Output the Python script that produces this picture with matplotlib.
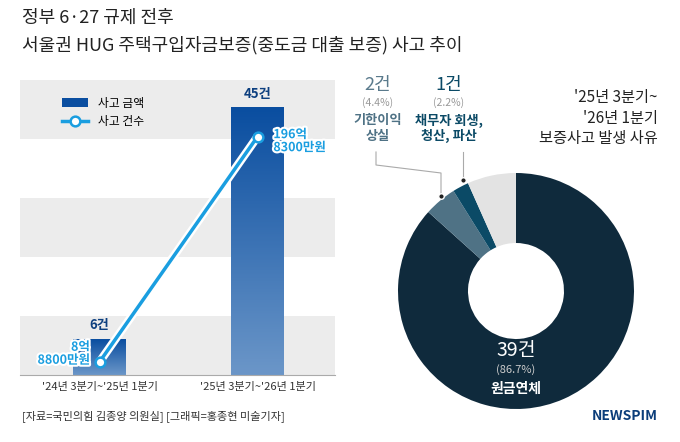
import numpy as np
import matplotlib.pyplot as plt
import matplotlib.patheffects as pe
from matplotlib.colors import LinearSegmentedColormap

plt.rcParams['font.family'] = ['Noto Sans CJK KR', 'DejaVu Sans']

periods = ["'24년 3분기~'25년 1분기", "'25년 3분기~'26년 1분기"]
counts = [6, 45]
amounts = [8.88, 196.83]  # 억원
amount_labels = ['8억\n8800만원', '196억\n8300만원']

reasons = ['원금연체', '기한이익\n상실', '채무자 회생,\n청산, 파산', '기타']
reason_counts = [39, 2, 1, 3]
pie_colors = ['#0f2a3c', '#4f7285', '#0b4a66', '#e3e3e3']

W, H = 680, 442
fig = plt.figure(figsize=(6.8, 4.42), dpi=100)

def fx(x):
    return x / W

def fy(y):
    return 1 - y / H

fig.text(fx(22), fy(18), '정부 6·27 규제 전후', fontsize=13, va='center', color='#222')
fig.text(fx(22), fy(45), '서울권 HUG 주택구입자금보증(중도금 대출 보증) 사고 추이', fontsize=13, va='center', color='#222')

# left bar chart
ymax = 49.7
ax = fig.add_axes([fx(20), fy(375), fx(315), (375 - 80) / H])
for i in range(5):
    if i % 2 == 0:
        ax.axhspan(i * ymax / 5, (i + 1) * ymax / 5, color='#ececec', zorder=0, lw=0)
x = np.arange(len(periods))
hw = 0.165
cmap = LinearSegmentedColormap.from_list('b', ['#6b96c8', '#0a4ea0'])
grad = np.linspace(0, 1, 100).reshape(-1, 1)
for xi, c in zip(x, counts):
    ax.imshow(grad, cmap=cmap, origin='lower', aspect='auto',
              extent=[xi - hw, xi + hw, 0, c], zorder=2)
    ax.text(xi, c + 1.2, f'{c}건', ha='center', va='bottom', fontsize=9.5,
            fontweight='bold', color='#0d3f7f', zorder=5)
ax.set_aspect('auto')
ax.set_xlim(-0.503, 1.49)
ax.set_ylim(0, ymax)
ax.set_xticks(x)
ax.set_xticklabels(periods, fontsize=8, color='#333')
ax.tick_params(axis='x', length=0, pad=5)
ax.set_yticks([])
for s in ['top', 'right', 'left']:
    ax.spines[s].set_visible(False)
ax.spines['bottom'].set_color('#aaa')
ax.bar([0], [0], color='#0a4ea0', label='사고 금액')

ax2 = ax.twinx()
ax2.set_ylim(-2, 244)
ax2.plot(x, amounts, color='white', lw=6, zorder=3, solid_capstyle='round')
ax2.plot(x, amounts, color='#1a9ee0', lw=2.5, marker='o', ms=7, mfc='white',
         mec='#1a9ee0', mew=1.8, zorder=4, label='사고 건수')
stroke = [pe.withStroke(linewidth=3, foreground='white')]
ax2.text(x[0] - 0.06, amounts[0] - 4, amount_labels[0], ha='right', va='bottom',
         fontsize=9, fontweight='bold', color='#1a9ee0', linespacing=1.0, zorder=6,
         path_effects=stroke)
ax2.text(x[1] + 0.1, amounts[1] + 7, amount_labels[1], ha='left', va='top',
         fontsize=9, fontweight='bold', color='#1a9ee0', linespacing=1.0, zorder=6,
         path_effects=stroke)
ax2.set_yticks([])
for s in ax2.spines.values():
    s.set_visible(False)
h1, l1 = ax.get_legend_handles_labels()
h2, l2 = ax2.get_legend_handles_labels()
ax2.legend(h1 + h2, l1 + l2, loc='upper left', bbox_to_anchor=(0.1, 0.98),
           frameon=False, fontsize=8.5, handlelength=2.2)

# right donut
pax = fig.add_axes([fx(516 - 118), fy(291 + 118), 236 / W, 236 / H])
pax.pie(reason_counts, colors=pie_colors, startangle=90, counterclock=False,
        wedgeprops=dict(width=1 - 48 / 118))
pax.set_xlim(-1, 1)
pax.set_ylim(-1, 1)
pax.set_aspect('equal')
pax.text(0, -0.55, '39건', ha='center', fontsize=14, color='white')
pax.text(0, -0.69, '(86.7%)', ha='center', fontsize=8, color='#ccc')
pax.text(0, -0.86, '원금연체', ha='center', fontsize=10, fontweight='bold', color='white')

fig.text(fx(378), fy(90), '2건', ha='center', fontsize=13, color='#5a7a8c')
fig.text(fx(378), fy(106), '(4.4%)', ha='center', fontsize=7.5, color='#999')
fig.text(fx(378), fy(128), '기한이익\n상실', ha='center', va='center', fontsize=9.5,
         fontweight='bold', color='#4f7285', linespacing=1.1)
fig.text(fx(449), fy(90), '1건', ha='center', fontsize=13, color='#0b4a66')
fig.text(fx(449), fy(106), '(2.2%)', ha='center', fontsize=7.5, color='#999')
fig.text(fx(449), fy(128), '채무자 회생,\n청산, 파산', ha='center', va='center', fontsize=9.5,
         fontweight='bold', color='#0b4a66', linespacing=1.1)
fig.add_artist(plt.Line2D([fx(376), fx(376), fx(441), fx(441)],
                          [fy(152), fy(165), fy(173), fy(196)], color='#aaa', lw=0.8))
fig.add_artist(plt.Line2D([fx(463), fx(463)], [fy(152), fy(180)], color='#aaa', lw=0.8))
fig.add_artist(plt.Line2D([fx(441)], [fy(196)], marker='o', ms=4, color='#222', mec='white', mew=1))
fig.add_artist(plt.Line2D([fx(463)], [fy(180)], marker='o', ms=4, color='#222', mec='white', mew=1))

fig.text(fx(658), fy(118), "'25년 3분기~\n'26년 1분기\n보증사고 발생 사유", ha='right', va='center',
         fontsize=11, color='#222', linespacing=1.25, multialignment='right')

fig.text(fx(22), fy(416), '[자료=국민의힘 김종양 의원실] [그래픽=홍종현 미술기자]', fontsize=8, va='center', color='#333')
fig.text(fx(658), fy(416), 'NEWSPIM', ha='right', va='center', fontsize=10, fontweight='bold', color='#0b3d7a')

fig.savefig('out.png', dpi=100)
